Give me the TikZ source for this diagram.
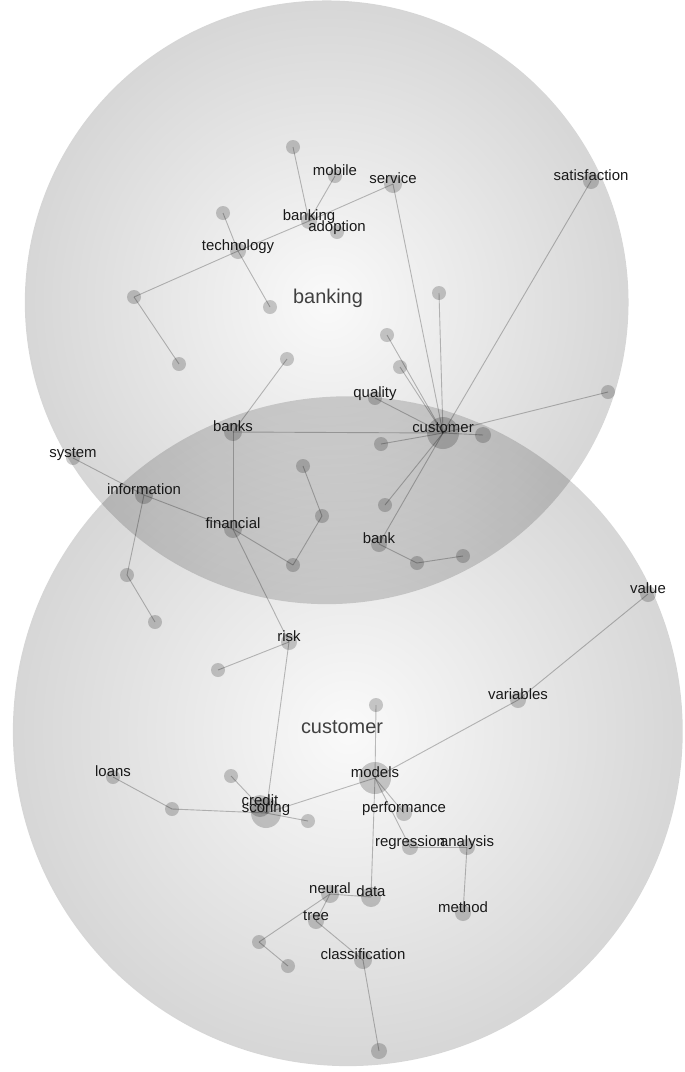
\documentclass[tikz,border=0pt]{standalone}
\usepackage{fontspec}
\setmainfont{Liberation Sans}
\usetikzlibrary{fadings}
\pgfdeclareradialshading{ringshade}{\pgfpoint{0bp}{0bp}}{color(0bp)=(pgftransparent!98); color(50bp)=(pgftransparent!70)}
\pgfdeclarefading{ringfade}{\pgfuseshading{ringshade}}
\pgfdeclarelayer{zones}
\pgfdeclarelayer{links}
\pgfsetlayers{zones,links,main}
\newcommand\kw[5]{\node[dot=#4] (#1) at (#2,#3) {};\node[lbl] (#1-t) at ([yshift=0.3bp]#1.center) {#5};}
\newcommand\pt[4]{\node[dot=#4] (#1) at (#2,#3) {};}
\begin{document}
\begin{tikzpicture}[x=1bp,y=-1bp,
  dot/.style={circle, fill=black, fill opacity=0.2, draw=none, inner sep=0pt, minimum size=#1},
  lbl/.style={anchor=base, inner sep=0pt, font=\fontsize{15}{15}\selectfont, text=black!90},
  big/.style={anchor=base, inner sep=0pt, font=\fontsize{20}{20}\selectfont, text=black!75},
  link/.style={draw=black, draw opacity=0.25, line width=0.9bp},
  zone/.style={fill=black, path fading=ringfade, fit fading=true}]
\useasboundingbox (0,0) rectangle (685,1072);
\begin{pgfonlayer}{zones}
\fill[white] (0,0) rectangle (685,1072);
\fill[zone] (327,302) circle (302bp);
\fill[zone] (348,731) circle (335bp);
\end{pgfonlayer}
\node[big] (bankingzone) at (328,303) {banking};
\node[big] (customerzone) at (342,733) {customer};
% top cluster
\pt{u1}{293}{147}{14bp}
\kw{mobile}{335}{176}{14bp}{mobile}
\kw{service}{393}{184}{18bp}{service}
\kw{banking}{309}{221}{16bp}{banking}
\kw{adoption}{337}{232}{14bp}{adoption}
\pt{u2}{223}{213}{14bp}
\kw{technology}{238}{251}{16bp}{technology}
\pt{u3}{270}{307}{14bp}
\pt{u4}{134}{297}{14bp}
\pt{u5}{179}{364}{14bp}
\pt{u6}{439}{293}{14bp}
\pt{u7}{387}{335}{14bp}
\pt{u8}{400}{367}{14bp}
\kw{quality}{375}{398}{14bp}{quality}
\kw{satisfaction}{591}{181}{16bp}{satisfaction}
\pt{u9}{608}{392}{14bp}
\kw{customer}{443}{433}{32bp}{customer}
\pt{u10}{483}{435}{16bp}
\pt{u11}{381}{444}{14bp}
\pt{u12}{385}{505}{14bp}
\kw{bank}{379}{544}{16bp}{bank}
\pt{u13}{417}{563}{14bp}
\pt{u14}{463}{556}{14bp}
\kw{banks}{233}{432}{18bp}{banks}
\pt{u15}{287}{359}{14bp}
\kw{financial}{233}{529}{18bp}{financial}
\kw{information}{144}{495}{18bp}{information}
\kw{system}{73}{458}{14bp}{system}
\pt{u16}{127}{575}{14bp}
\pt{u17}{155}{622}{14bp}
\pt{u18}{293}{565}{14bp}
\pt{u19}{322}{516}{14bp}
\pt{u20}{303}{466}{14bp}
% bottom cluster
\kw{risk}{289}{642}{16bp}{risk}
\pt{u21}{218}{670}{14bp}
\kw{credit}{260}{806}{22bp}{credit}
\kw{scoring}{266}{813}{30bp}{scoring}
\pt{u22}{308}{821}{14bp}
\pt{u23}{231}{776}{14bp}
\pt{u24}{172}{809}{14bp}
\kw{loans}{113}{777}{14bp}{loans}
\kw{models}{375}{778}{32bp}{models}
\pt{u25}{376}{705}{14bp}
\kw{variables}{518}{700}{16bp}{variables}
\kw{value}{648}{594}{16bp}{value}
\kw{performance}{404}{813}{16bp}{performance}
\kw{regression}{410}{847}{16bp}{regression}
\kw{analysis}{467}{847}{16bp}{analysis}
\kw{method}{463}{913}{16bp}{method}
\kw{data}{371}{897}{20bp}{data}
\kw{neural}{330}{894}{18bp}{neural}
\kw{tree}{316}{921}{16bp}{tree}
\pt{u26}{259}{942}{14bp}
\pt{u27}{288}{966}{14bp}
\kw{classification}{363}{960}{18bp}{classification}
\pt{u28}{379}{1051}{16bp}
\begin{pgfonlayer}{links}
\foreach \a/\b in {u1/banking, mobile/banking, service/banking, banking/technology,
  technology/u4, u4/u5, u2/technology, technology/u3,
  service/customer, u6/customer, u7/customer, u8/customer, quality/customer,
  satisfaction/customer, u9/customer, customer/u10, customer/u11, customer/u12,
  customer/bank, banks/customer, bank/u13, u13/u14,
  banks/u15, banks/financial, financial/information, information/system,
  information/u16, u16/u17, financial/u18, u18/u19, u19/u20, financial/risk,
  risk/u21, risk/scoring, scoring/u22, scoring/u23, scoring/u24, u24/loans,
  models/scoring, models/u25, models/variables, variables/value,
  models/performance, models/regression, models/data, regression/analysis,
  analysis/method, data/neural, neural/u26, u26/u27, neural/tree,
  tree/classification, classification/u28}
  \draw[link] (\a.center) -- (\b.center);
\end{pgfonlayer}
\end{tikzpicture}
\end{document}
